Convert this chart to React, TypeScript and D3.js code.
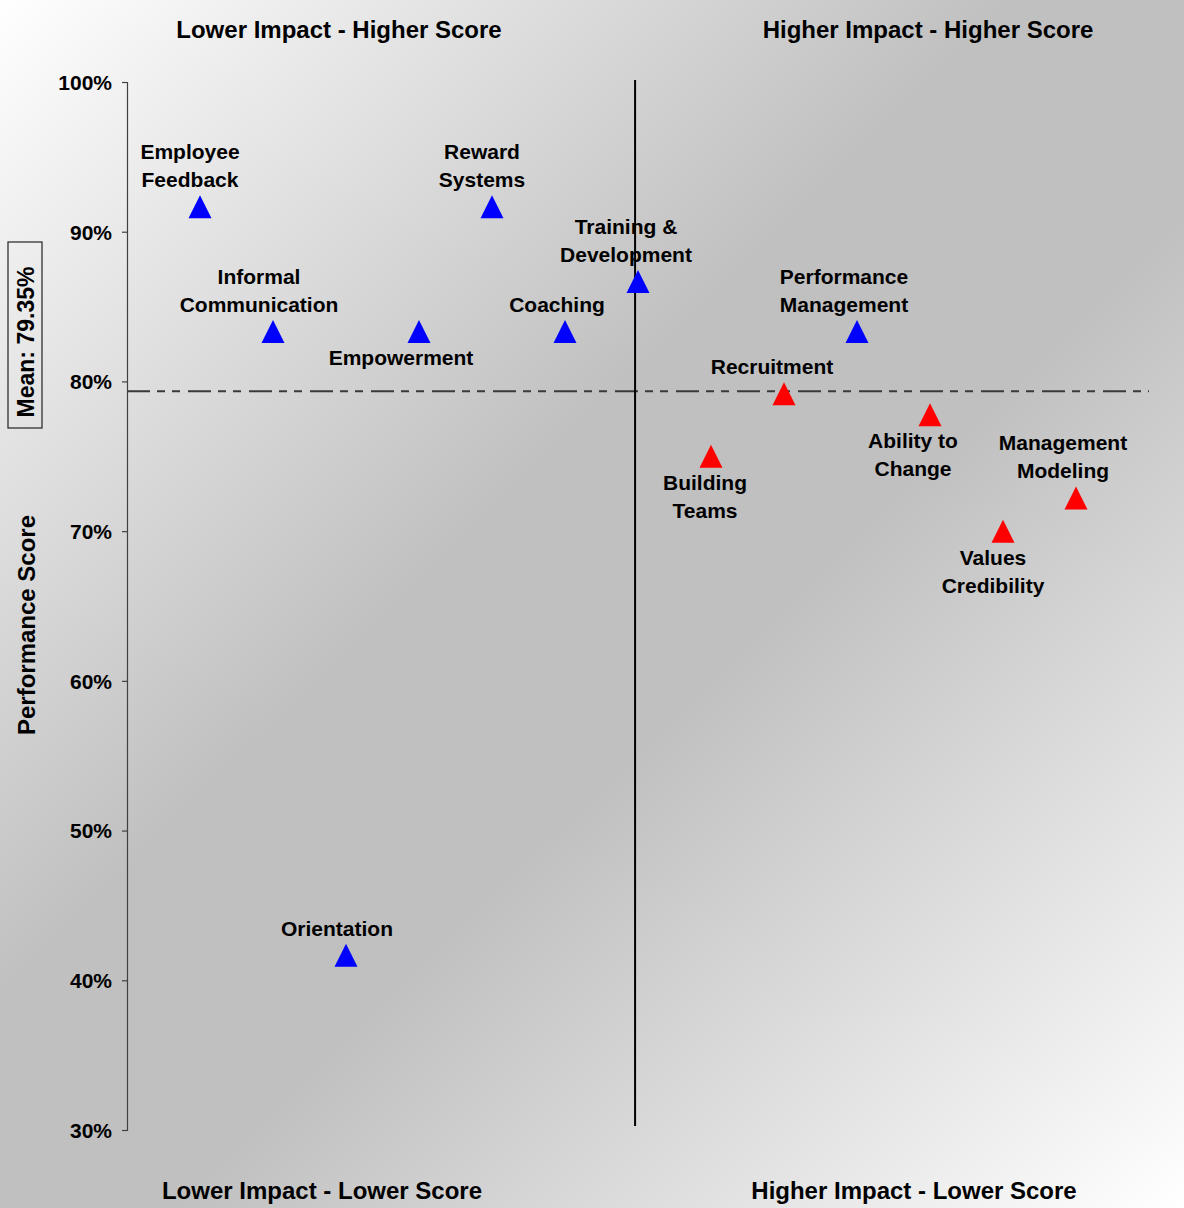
import { useEffect, useMemo, useRef } from "react";
import * as d3 from "d3";

const width = 1184;
const height = 1208;
const plot = { left: 127, right: 1149, top: 82, bottom: 1130 };
const font = "'Liberation Sans', Arial, Helvetica, sans-serif";

// chart values
const categories = [
  "Employee\nFeedback",
  "Informal\nCommunication",
  "Orientation",
  "Empowerment",
  "Reward\nSystems",
  "Coaching",
  "Training &\nDevelopment",
  "Building\nTeams",
  "Recruitment",
  "Performance\nManagement",
  "Ability to\nChange",
  "Values\nCredibility",
  "Management\nModeling",
];
const impactRank = [1, 2, 3, 4, 5, 6, 7, 8, 9, 10, 11, 12, 13];
const scores = [91.67, 83.33, 41.67, 83.33, 91.67, 83.33, 86.67, 75.0, 79.17, 83.33, 77.78, 70.0, 72.22];
const meanScore = 79.35;
const impactDivider = 6.96;
const yTicks = [30, 40, 50, 60, 70, 80, 90, 100];
const quadrantTitles = [
  "Lower Impact - Higher Score",
  "Higher Impact - Higher Score",
  "Lower Impact - Lower Score",
  "Higher Impact - Lower Score",
];

// label placement (layout only): side of the marker and a small horizontal nudge
const labelLayout: Record<string, { below: boolean; dx: number }> = {
  "Employee\nFeedback": { below: false, dx: -10 },
  "Informal\nCommunication": { below: false, dx: -14 },
  Orientation: { below: false, dx: -9 },
  Empowerment: { below: true, dx: -18 },
  "Reward\nSystems": { below: false, dx: -10 },
  Coaching: { below: false, dx: -8 },
  "Training &\nDevelopment": { below: false, dx: -12 },
  "Building\nTeams": { below: true, dx: -6 },
  Recruitment: { below: false, dx: -12 },
  "Performance\nManagement": { below: false, dx: -13 },
  "Ability to\nChange": { below: true, dx: -17 },
  "Values\nCredibility": { below: true, dx: -10 },
  "Management\nModeling": { below: false, dx: -13 },
};
const titlePos = [
  { x: 339, y: 38 },
  { x: 928, y: 38 },
  { x: 322, y: 1199 },
  { x: 914, y: 1199 },
];

const triangle = (cx: number, cy: number, w = 23, h = 23) => {
  const p = d3.path();
  p.moveTo(cx, cy - h / 2);
  p.lineTo(cx + w / 2, cy + h / 2);
  p.lineTo(cx - w / 2, cy + h / 2);
  p.closePath();
  return p.toString();
};

const App = () => {
  const yAxisRef = useRef<SVGGElement>(null);

  const { xScale, yScale, points } = useMemo(() => {
    const xScale = d3.scaleLinear().domain([0, 14]).range([plot.left, plot.right]);
    const yScale = d3.scaleLinear().domain([30, 100]).range([plot.bottom, plot.top]);
    // red marks the high impact / low score quadrant
    const points = categories.map((c, i) => ({
      label: c,
      x: xScale(impactRank[i]),
      y: yScale(scores[i]),
      fill: impactRank[i] > impactDivider && scores[i] < meanScore ? "#ff0000" : "#0000ff",
    }));
    return { xScale, yScale, points };
  }, []);

  useEffect(() => {
    if (!yAxisRef.current) return;
    const axis = d3
      .axisLeft(yScale)
      .tickValues(yTicks)
      .tickFormat((d) => `${d}%`)
      .tickSize(5)
      .tickPadding(10);
    const g = d3.select(yAxisRef.current).call(axis);
    g.select(".domain").attr("stroke", "#404040").attr("stroke-width", 1.2);
    g.selectAll(".tick line").attr("stroke", "#404040").attr("stroke-width", 1.2);
    g.selectAll(".tick text")
      .attr("font-family", font)
      .attr("font-size", 21)
      .attr("font-weight", "bold")
      .attr("fill", "#000")
      .attr("dy", "0.35em");
  }, [yScale]);

  const yMean = yScale(meanScore);
  const lineH = 28;

  return (
    <svg
      width={width}
      height={height}
      style={{ position: "absolute", left: 0, top: 0, display: "block" }}
      fontFamily={font}
    >
      <defs>
        <linearGradient id="bg" gradientUnits="userSpaceOnUse" x1={0} y1={0} x2={width} y2={height}>
          <stop offset="0" stopColor="#ffffff" />
          <stop offset="0.42" stopColor="#c0c0c0" />
          <stop offset="0.58" stopColor="#c0c0c0" />
          <stop offset="1" stopColor="#ffffff" />
        </linearGradient>
      </defs>
      <rect x={0} y={0} width={width} height={height} fill="url(#bg)" />

      {/* mean line */}
      <line
        x1={plot.left}
        x2={plot.right}
        y1={yMean}
        y2={yMean}
        stroke="#3a3a3a"
        strokeWidth={2}
        strokeDasharray="23,7,8,7,8,8"
      />
      {/* impact divider */}
      <line
        x1={xScale(impactDivider)}
        x2={xScale(impactDivider)}
        y1={plot.top - 2}
        y2={plot.bottom - 4}
        stroke="#000"
        strokeWidth={2}
      />

      <g ref={yAxisRef} transform={`translate(${plot.left},0)`} />

      {points.map((p, i) => {
        const lines = p.label.split("\n");
        const lay = labelLayout[p.label];
        const firstCenter = lay.below ? p.y + 26 : p.y - 27 - (lines.length - 1) * lineH;
        return (
          <g key={i}>
            <text textAnchor="middle" fontSize={21} fontWeight="bold" fill="#000">
              {lines.map((l, j) => (
                <tspan key={j} x={p.x + lay.dx} y={firstCenter + j * lineH + 7.5}>
                  {l}
                </tspan>
              ))}
            </text>
            <path d={triangle(p.x, p.y)} fill={p.fill} />
          </g>
        );
      })}

      {quadrantTitles.map((t, i) => (
        <text
          key={t}
          x={titlePos[i].x}
          y={titlePos[i].y}
          textAnchor="middle"
          fontSize={24}
          fontWeight="bold"
          fill="#000"
        >
          {t}
        </text>
      ))}

      <text
        transform="translate(35,625) rotate(-90)"
        textAnchor="middle"
        fontSize={24}
        fontWeight="bold"
        fill="#000"
      >
        Performance Score
      </text>

      <rect x={8} y={242} width={34} height={186} fill="none" stroke="#222" strokeWidth={1.2} />
      <text
        transform="translate(34,342) rotate(-90)"
        textAnchor="middle"
        fontSize={23}
        fontWeight="bold"
        fill="#000"
      >
        {`Mean: ${meanScore.toFixed(2)}%`}
      </text>
    </svg>
  );
};

export default App;
